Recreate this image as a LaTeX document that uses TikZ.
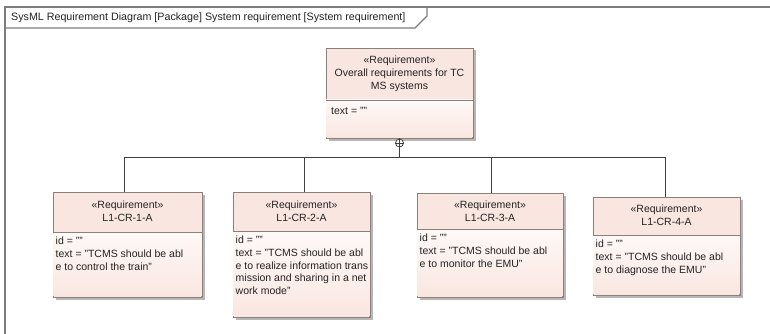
\documentclass[tikz,border=0pt]{standalone}
\usepackage{fontspec}
\setmainfont{Liberation Sans}
\usetikzlibrary{shadows}
\definecolor{framegray}{RGB}{125,125,125}
\definecolor{boxedge}{RGB}{140,128,122}
\definecolor{reqpink}{RGB}{250,230,224}
\definecolor{reqlight}{RGB}{254,249,247}
\definecolor{inkcol}{RGB}{35,35,35}
\tikzset{
  reqbox/.style={draw=boxedge, line width=0.8pt, inner sep=0pt, outer sep=0pt,
    fill=reqpink, anchor=north west,
    drop shadow={shadow xshift=2.5pt, shadow yshift=-2.5pt, fill=black!40, opacity=0.7}},
  bodyfill/.style={top color=reqlight, bottom color=reqpink},
  divider/.style={draw=boxedge, line width=0.8pt},
  headtext/.style={font=\fontsize{10.5}{12.7}\selectfont, text=inkcol, align=center, anchor=north, inner sep=0pt},
  bodytext/.style={font=\fontsize{10.5}{12.7}\selectfont, text=inkcol, align=left, anchor=north west, inner sep=0pt},
  link/.style={draw=black!75, line width=0.8pt},
  framefill/.style={draw=framegray, line width=1.1pt},
}
% requirement box: name, left, top, right, bottom, divider y
\newcommand{\reqblock}[6]{%
  \node[reqbox, minimum width=#4pt-#2pt, minimum height=#5pt-#3pt] (#1) at (#2,#3) {};
  \fill[bodyfill] (#2+0.4,#6) rectangle (#4-0.4,#5-0.4);
  \draw[divider] (#2,#6) -- (#4,#6);
}
\begin{document}
\begin{tikzpicture}[x=1pt,y=-1pt]
\useasboundingbox (0,0) rectangle (770,334);
\fill[white] (0,0) rectangle (770,334);

% diagram frame and its title tab
\draw[framefill] (5,334) -- (5,7) -- (770,7);
\draw[framefill] (5,28) -- (415,28) -- (427,16) -- (427,7);
\node[font=\fontsize{10.7}{12}\selectfont, text=inkcol, anchor=west, inner sep=0pt] (title) at (11,18)
  {SysML Requirement Diagram [Package] System requirement [System requirement]};

% parent requirement
\reqblock{top}{326}{48}{473}{138}{100}
\node[headtext] (topname) at (399.5,56) {«Requirement»\\Overall requirements for TC\\MS systems};
\node[bodytext] (topbody) at (331,107) {text = ""};

% child requirements
\reqblock{r1}{53}{192}{202}{297}{232}
\node[headtext] (r1name) at (127.5,201) {«Requirement»\\L1-CR-1-A};
\node[bodytext] (r1body) at (55.5,237) {id = ""\\text = "TCMS should be abl\\e to control the train"};

\reqblock{r2}{233}{192}{370}{317}{231}
\node[headtext] (r2name) at (301.5,201) {«Requirement»\\L1-CR-2-A};
\node[bodytext] (r2body) at (235.5,236) {id = ""\\text = "TCMS should be abl\\e to realize information trans\\mission and sharing in a net\\work mode"};

\reqblock{r3}{417}{193}{563}{297}{229}
\node[headtext] (r3name) at (490,201) {«Requirement»\\L1-CR-3-A};
\node[bodytext] (r3body) at (419.5,234) {id = ""\\text = "TCMS should be abl\\e to monitor the EMU"};

\reqblock{r4}{593}{197}{740}{295}{235}
\node[headtext] (r4name) at (666.5,205) {«Requirement»\\L1-CR-4-A};
\node[bodytext] (r4body) at (595.5,240) {id = ""\\text = "TCMS should be abl\\e to diagnose the EMU"};

% containment connector: circled plus under the parent, bus to children
\node[draw=black!75, line width=0.8pt, circle, minimum size=8pt, inner sep=0pt, fill=white] (cplus) at (399.5,143) {};
\draw[link] (cplus.north) -- (cplus.south) (cplus.west) -- (cplus.east);
\coordinate (busL) at (124,157);
\coordinate (busR) at (665,157);
\coordinate (bus2) at (304,157);
\coordinate (bus3) at (491,157);
\draw[link] (top.south -| cplus) -- (cplus.north);
\draw[link] (cplus.south) -- (cplus.south |- busL);
\draw[link] (busL) -- (busR);
\draw[link] (busL) -- (r1.north -| busL);
\draw[link] (bus2) -- (r2.north -| bus2);
\draw[link] (bus3) -- (r3.north -| bus3);
\draw[link] (busR) -- (r4.north -| busR);
\end{tikzpicture}
\end{document}
